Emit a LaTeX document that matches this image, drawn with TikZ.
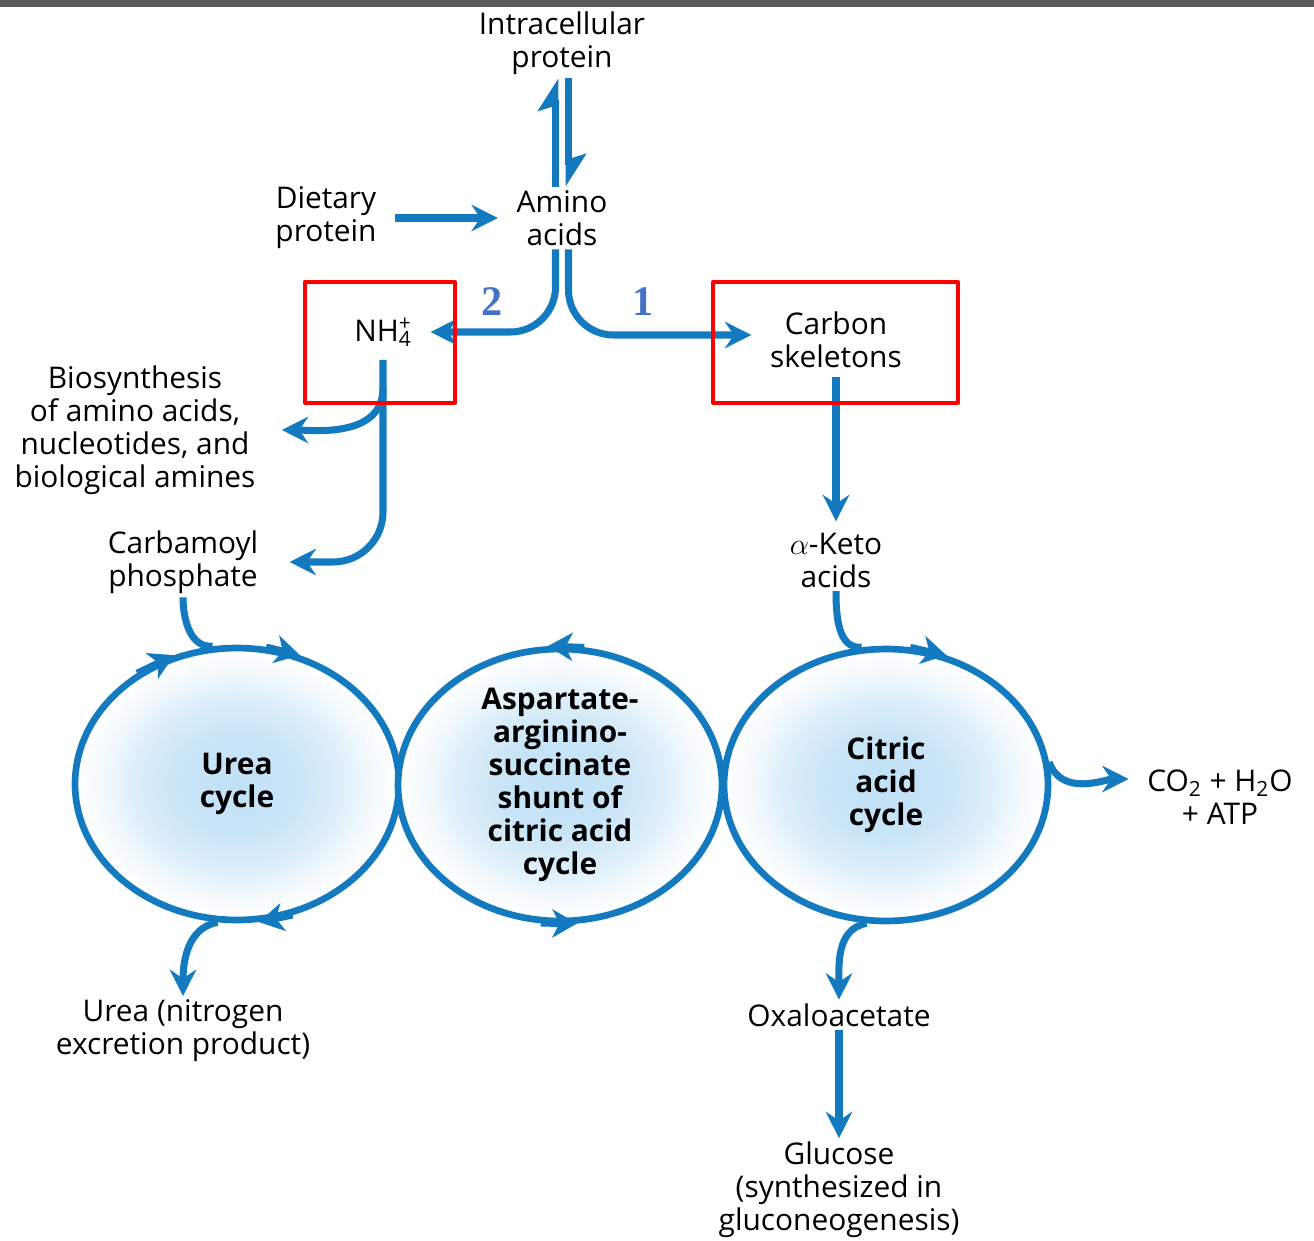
\documentclass[tikz,border=0pt]{standalone}
\usepackage{fontspec}
\setmainfont{Open Sans}
\newfontfamily\numfont{Liberation Serif}
\usepackage{tikz}
\usetikzlibrary{arrows.meta}
\usetikzlibrary{shapes.geometric}
\definecolor{flowblue}{RGB}{20,122,192}
\definecolor{cyclefill}{RGB}{194,225,246}
\definecolor{numblue}{RGB}{68,114,196}
\definecolor{topbar}{RGB}{89,89,89}
\pgfdeclareradialshading{cycshade}{\pgfpoint{0bp}{0bp}}{color(0bp)=(cyclefill); color(9bp)=(cyclefill!90!white); color(16bp)=(cyclefill!55!white); color(22bp)=(cyclefill!12!white); color(25bp)=(white); color(50bp)=(white)}

\begin{document}
\begin{tikzpicture}[x=0.02cm,y=0.02cm,line join=round,
    every node/.style={font=\fontsize{17}{18.8}\selectfont, align=center, inner sep=2pt},
    every label/.style={font=\bfseries\fontsize{17}{18.8}\selectfont, align=center}]
      \tikzset{flow/.style={draw=flowblue, line width=4pt, -{Stealth[length=15pt,width=15pt,inset=5pt]}}}
      \tikzset{plain/.style={draw=flowblue, line width=4pt}}
      \tikzset{harp/.style={draw=flowblue, line width=4pt, -{Stealth[harpoon,length=16pt,width=20pt,inset=3pt]}}}
      \tikzset{cyctip/.style={draw=flowblue, line width=3.8pt, -{Stealth[length=14pt,width=16pt,inset=4pt]}}}
      \tikzset{loopnode/.style={ellipse, draw=flowblue, line width=3.8pt, minimum width=6.48cm, minimum height=5.44cm, shading=cycshade}}
      \tikzset{redbox/.style={draw=red, line width=2.3pt}}
      \tikzset{num/.style={text=numblue, font=\numfont\bfseries\fontsize{24}{24}\selectfont}}
      \useasboundingbox (0,0) rectangle (1314,-1240);
      \fill[topbar] (0,0) rectangle (1314,-7);
      % texts
      \node (ip) at (562,-43) {Intracellular\\protein};
      \node (aa) at (562,-218) {Amino\\acids};
      \node (dp) at (326,-218) {Dietary\\protein};
      \node (nh) at (383,-332) {NH\rlap{\textsuperscript{+}}\textsubscript{4}};
      \node (cs) at (836,-340) {Carbon\\skeletons};
      \node (bio) at (135,-430) {Biosynthesis\\of amino acids,\\nucleotides, and\\biological amines};
      \node (cp) at (183,-562) {Carbamoyl\\phosphate};
      \node (ak) at (836,-560) {$\alpha$-Keto\\acids};
      \node (co) at (1220,-797) {CO\textsubscript{2} + H\textsubscript{2}O\\+ ATP};
      \node (ur) at (183,-1031) {Urea (nitrogen\\excretion product)};
      \node (oa) at (839,-1015) {Oxaloacetate};
      \node (gl) at (839,-1190) {Glucose\\(synthesized in\\gluconeogenesis)};
      % cycles
      \node[loopnode, label=center:{Urea\\cycle}] (uc) at (237,-784) {};
      \node[loopnode, label=center:{Aspartate-\\arginino-\\succinate\\shunt of\\citric acid\\cycle}] (mc) at (560,-785) {};
      \node[loopnode, label=center:{Citric\\acid\\cycle}] (cc) at (886,-785) {};
      % arrows
      \draw[harp] ([xshift=-0.13cm]aa.north) -- ([xshift=-0.13cm]ip.south);
      \draw[harp] ([xshift=0.13cm]ip.south) -- ([xshift=0.13cm]aa.north);
      \draw[flow, shorten <=0.3cm, shorten >=0.3cm] (dp) -- (aa);
      \draw[flow, rounded corners=0.9cm, shorten >=0.3cm] ([xshift=-0.13cm]aa.south) |- (nh);
      \draw[flow, rounded corners=0.9cm, shorten >=0.3cm] ([xshift=0.13cm]aa.south) |- ([yshift=0.1cm]cs.west);
      \coordinate (fork) at (383,-388);
      \draw[flow, rounded corners=1cm, shorten >=0.55cm] ([yshift=-0.2cm]nh.south) |- (cp);
      \draw[flow, shorten >=0.45cm] (fork) to[out=-90,in=0] (bio.east);
      \draw[flow, shorten <=0.1cm, shorten >=0.15cm] (cs) -- (ak);
      \draw[plain] (ak.south) to[out=-90,in=185] (cc.100);
      \draw[plain] (cp.south) to[out=-90,in=185] (uc.100);
      \draw[flow] (uc.262) to[out=190,in=90] (ur);
      \draw[flow] (cc.262) to[out=190,in=90] (oa);
      \draw[flow] (oa) -- (gl);
      \draw[flow, shorten >=0.3cm] (cc.8) to[out=-70,in=180] ([yshift=0.36cm]co.west);
      % heads on the cycles
      \draw[cyctip] (uc.132) -- (uc.116);
      \draw[cyctip] (uc.78) -- (uc.64);
      \draw[cyctip] (uc.293) -- (uc.279);
      \draw[cyctip] (mc.80) -- (mc.95);
      \draw[cyctip] (mc.262) -- (mc.277);
      \draw[cyctip] (cc.80) -- (cc.65);
      % marks
      \node[num] (n2) at (492,-302) {2};
      \node[num] (n1) at (643,-302) {1};
      \node[redbox, minimum width=3cm, minimum height=2.42cm] (b2) at (380,-342.5) {};
      \node[redbox, minimum width=4.9cm, minimum height=2.42cm] (b1) at (835.5,-342.5) {};
\end{tikzpicture}
\end{document}
